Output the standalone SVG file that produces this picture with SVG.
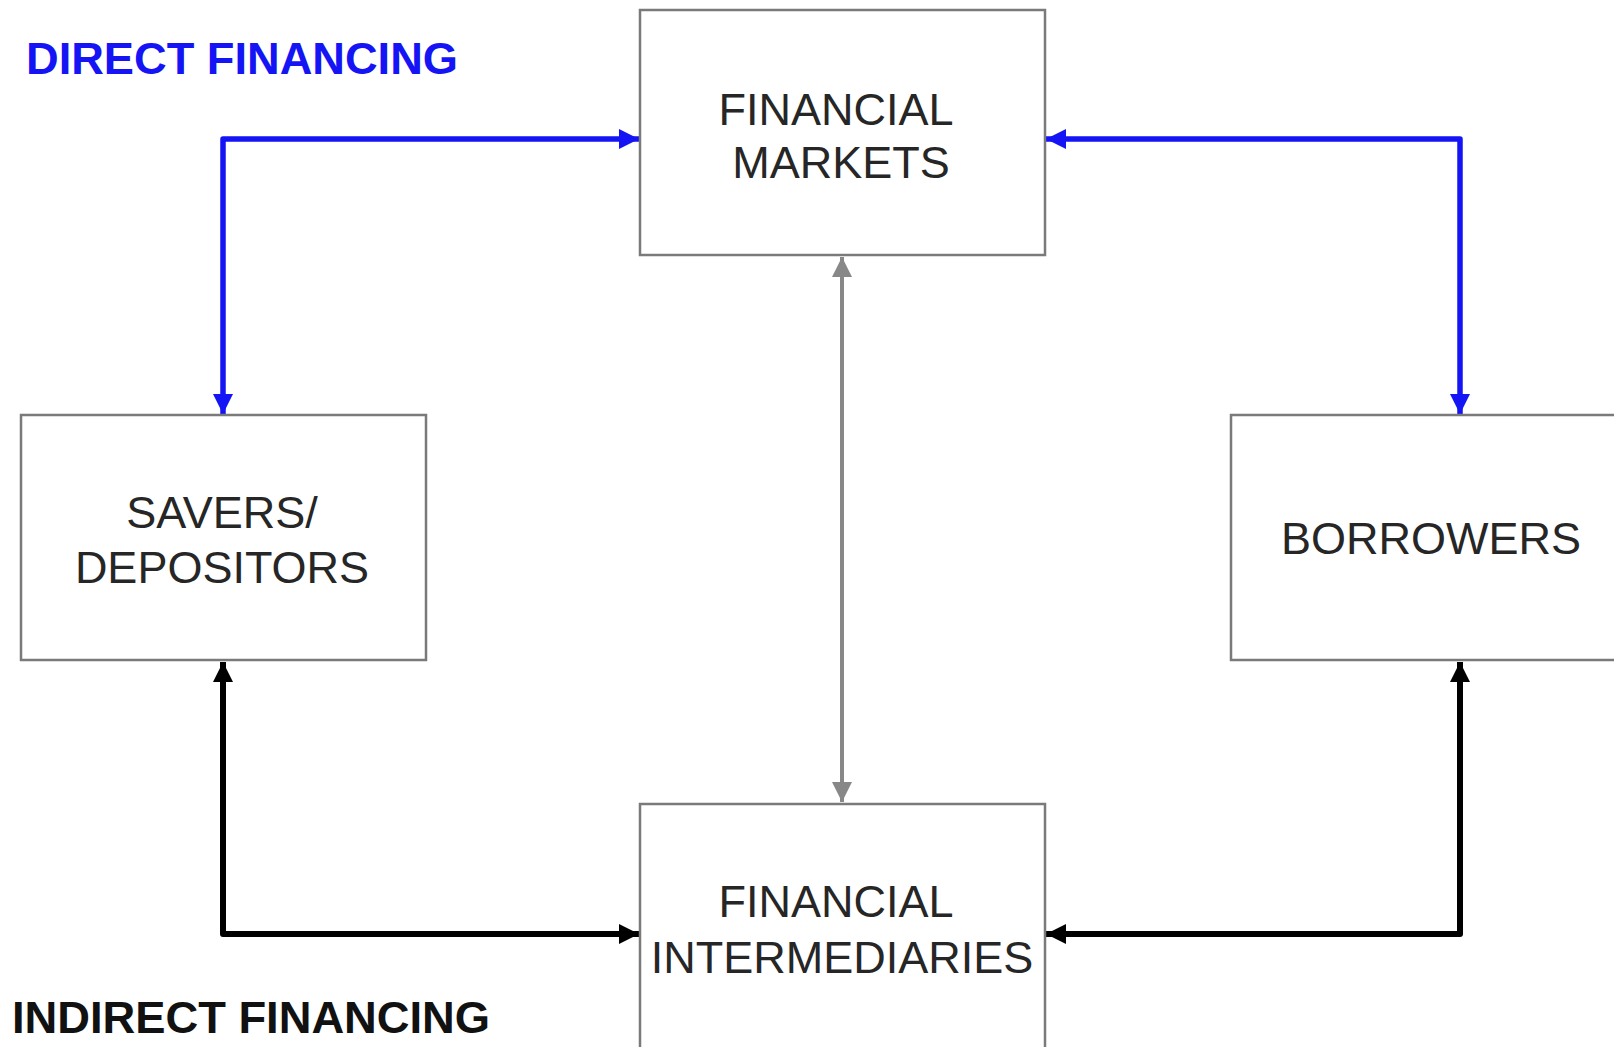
<svg xmlns="http://www.w3.org/2000/svg" width="1614" height="1047" viewBox="0 0 1614 1047">
<style>
.box{fill:#fff;stroke:#7a7a7a;stroke-width:2.5}
.lbl{font-family:"Liberation Sans",Arial,sans-serif;font-size:45px;fill:#262626;text-anchor:middle}
.title{font-family:"Liberation Sans",Arial,sans-serif;font-size:45px;font-weight:bold}
.blue{fill:none;stroke:#1414f5;stroke-width:5.5;stroke-linejoin:round}
.black{fill:none;stroke:#000;stroke-width:6;stroke-linejoin:round}
.gray{fill:none;stroke:#888;stroke-width:4}
</style>
<defs>
<marker id="ab" markerUnits="userSpaceOnUse" markerWidth="22" markerHeight="22" refX="20" refY="10" orient="auto-start-reverse" viewBox="0 0 22 22"><path d="M0,0 L20,10 L0,20 z" fill="#1414f5"/></marker>
<marker id="ak" markerUnits="userSpaceOnUse" markerWidth="22" markerHeight="22" refX="20" refY="10" orient="auto-start-reverse" viewBox="0 0 22 22"><path d="M0,0 L20,10 L0,20 z" fill="#000"/></marker>
<marker id="ag" markerUnits="userSpaceOnUse" markerWidth="22" markerHeight="22" refX="20" refY="10" orient="auto-start-reverse" viewBox="0 0 22 22"><path d="M0,0 L20,10 L0,20 z" fill="#888"/></marker>
</defs>
<rect width="1614" height="1047" fill="#fff"/>
<g id="connectors">
<path class="blue" d="M223,414 L223,139 L639,139" marker-start="url(#ab)" marker-end="url(#ab)"/>
<path class="blue" d="M1460,414 L1460,139 L1046,139" marker-start="url(#ab)" marker-end="url(#ab)"/>
<path class="gray" d="M842,257 L842,802" marker-start="url(#ag)" marker-end="url(#ag)"/>
<path class="black" d="M223,662 L223,934 L639,934" marker-start="url(#ak)" marker-end="url(#ak)"/>
<path class="black" d="M1460,662 L1460,934 L1046,934" marker-start="url(#ak)" marker-end="url(#ak)"/>
</g>
<g id="financial-markets">
<rect class="box" x="640" y="10" width="405" height="245"/>
<text class="lbl" x="836" y="125">FINANCIAL</text>
<text class="lbl" x="841" y="178">MARKETS</text>
</g>
<g id="savers">
<rect class="box" x="21" y="415" width="405" height="245"/>
<text class="lbl" x="222" y="528">SAVERS/</text>
<text class="lbl" x="222" y="583">DEPOSITORS</text>
</g>
<g id="borrowers">
<rect class="box" x="1231" y="415" width="405" height="245"/>
<text class="lbl" x="1431" y="554">BORROWERS</text>
</g>
<g id="financial-intermediaries">
<rect class="box" x="640" y="804" width="405" height="260"/>
<text class="lbl" x="836" y="917">FINANCIAL</text>
<text class="lbl" x="842" y="973">INTERMEDIARIES</text>
</g>
<g id="direct-financing">
<text class="title" x="26" y="74" fill="#1414f5" textLength="432" lengthAdjust="spacingAndGlyphs">DIRECT FINANCING</text>
</g>
<g id="indirect-financing">
<text class="title" x="12" y="1033" fill="#111" textLength="478" lengthAdjust="spacingAndGlyphs">INDIRECT FINANCING</text>
</g>
</svg>
